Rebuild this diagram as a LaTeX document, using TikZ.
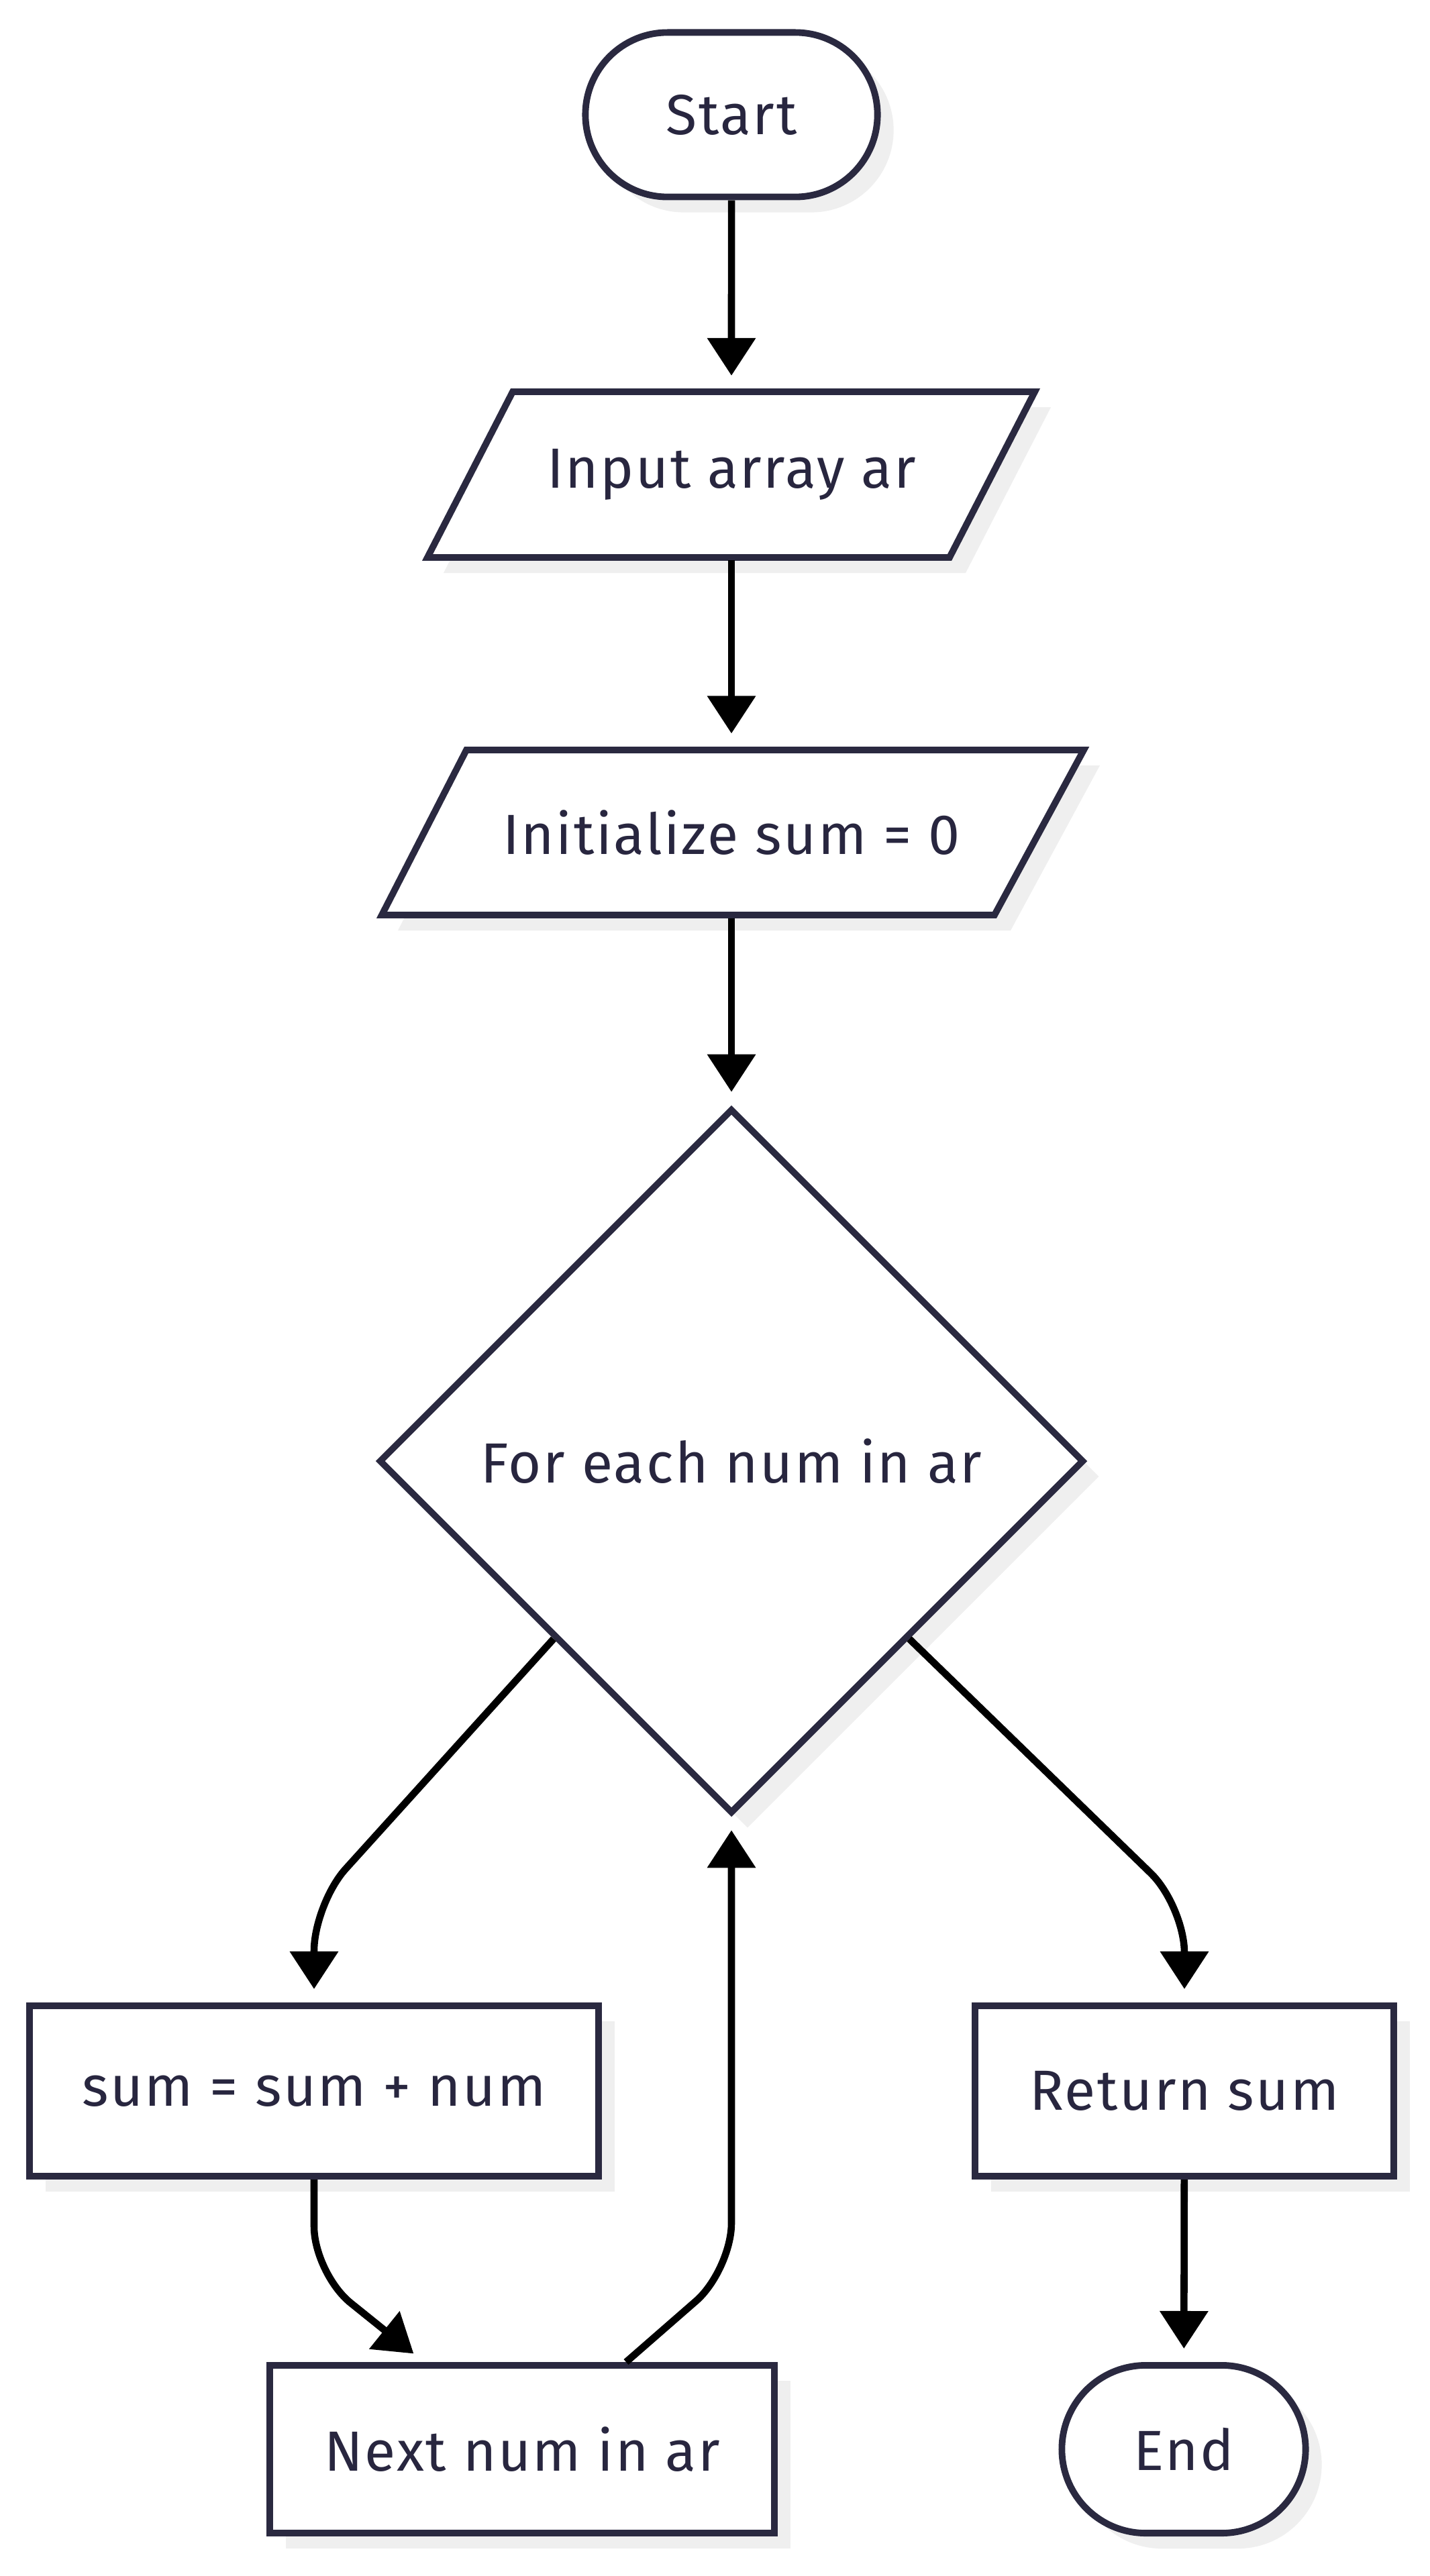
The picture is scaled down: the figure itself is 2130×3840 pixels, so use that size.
\documentclass[tikz,border=0pt]{standalone}
\usepackage{fontspec}
\setmainfont[LetterSpace=3]{Fira Sans}
\usetikzlibrary{shapes.geometric,shapes.misc,shadows,arrows.meta,calc}
\definecolor{bordc}{HTML}{2A2940}
\definecolor{txtc}{HTML}{28263F}
\definecolor{shadc}{HTML}{EFEFEF}
\begin{document}
\begin{tikzpicture}[x=0.01cm,y=-0.01cm,
  shad/.style={drop shadow={shadow xshift=0.24cm, shadow yshift=-0.23cm, fill=shadc, opacity=1}},
  lbl/.style={text=txtc, font=\fontsize{24pt}{28pt}\selectfont, inner sep=0pt},
  base/.style={lbl, draw=bordc, line width=2.8pt, fill=white, shad},
  term/.style={base, rounded rectangle, minimum height=2.45cm},
  proc/.style={base, rectangle, minimum height=2.54cm},
  iopath/.style={draw=bordc, line width=2.8pt, fill=white, line join=miter, shad},
  iotext/.style={lbl, rectangle, outer sep=0pt, minimum height=2.55cm},
  dec/.style={base, diamond, minimum width=10.5cm, minimum height=10.5cm},
  flow/.style={line width=3pt, black, -{Triangle[width=0.7cm,length=0.56cm]},
    shorten >=0.2cm, rounded corners=0.7cm}]
\useasboundingbox (0,0) rectangle (2130,3840);
\fill[white] (0,0) rectangle (2130,3840);

\node[term, minimum width=4.35cm] (start) at (1090,171) {Start};

\draw[iopath] (764,584) -- (1542,584) -- (1415,831) -- (637,831) -- cycle;
\node[iotext, minimum width=7.8cm] (inp) at (1090,707.5) {Input array ar};

\draw[iopath] (695,1118) -- (1615,1118) -- (1482,1364) -- (569,1364) -- cycle;
\node[iotext, minimum width=9.2cm] (init) at (1090,1241) {Initialize sum = 0};

\node[dec] (dia) at (1090,2178) {For each num in ar};
\node[proc, minimum width=8.47cm] (sum) at (468,3117) {sum = sum + num};
\node[proc, minimum width=6.24cm] (ret) at (1765,3117) {Return sum};
\node[proc, minimum width=7.52cm, minimum height=2.5cm] (next) at (778,3651) {Next num in ar};
\node[term, minimum width=3.63cm, minimum height=2.5cm] (stop) at (1764,3651) {End};

\draw[flow] (start) -- (inp);
\draw[flow] (inp) -- (init);
\draw[flow] (init) -- (dia);
\draw[flow] ($(dia.west)!0.5!(dia.south)$) -- (468,2838) -- (sum.north);
\draw[flow] ($(dia.east)!0.5!(dia.south)$) -- (1765,2841) -- (ret.north);
\draw[flow] (sum.south) -- (468,3389) -- ($(next.north)+(-146,0)$);
\draw[flow] ($(next.north)+(155,0)$) -- (1090,3384) -- (dia.south);
\draw[flow] (ret) -- (stop);
\end{tikzpicture}
\end{document}
